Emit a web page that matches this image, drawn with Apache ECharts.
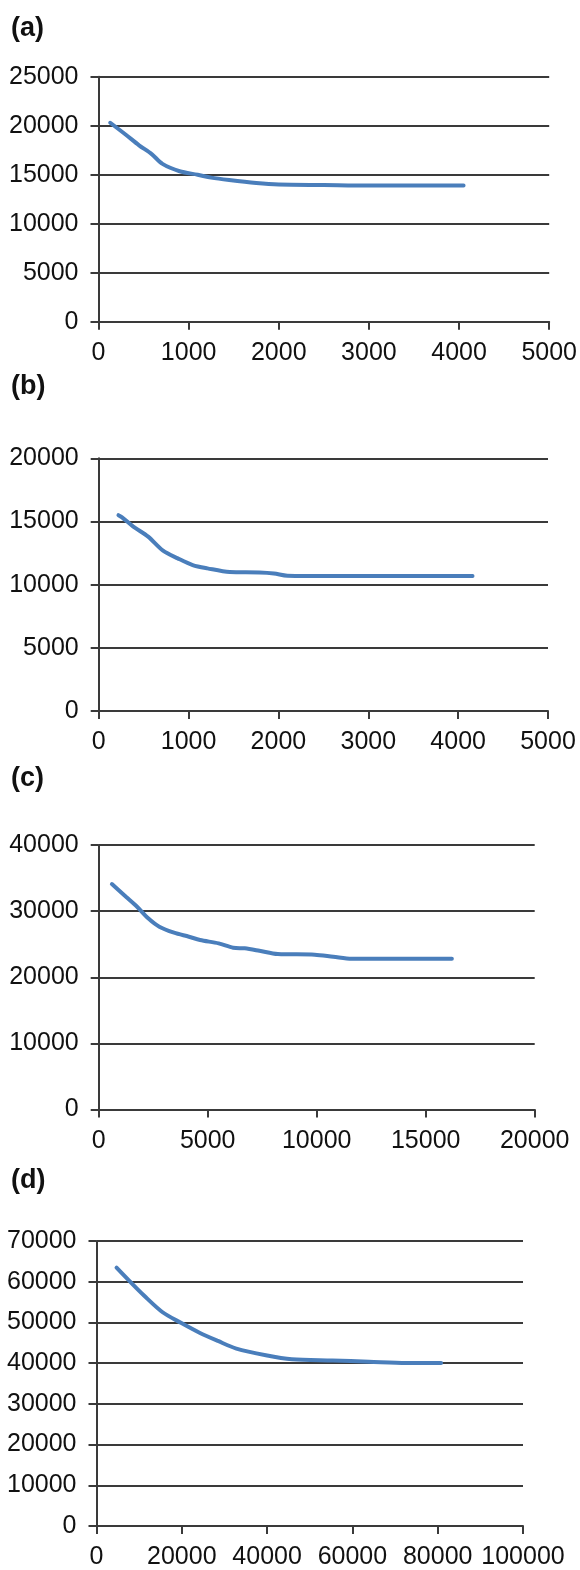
<!DOCTYPE html>
<html>
<head>
<meta charset="utf-8">
<script src="https://cdn.jsdelivr.net/npm/echarts@6/dist/echarts.min.js"></script>
<style>
html,body{margin:0;padding:0;background:#fff;}
#chart{width:580px;height:1570px;}
</style>
</head>
<body>
<div id="chart"></div>
<script>
// Panel labels
const panelLabels = ['(a)', '(b)', '(c)', '(d)'];

// Axis ranges (tick labels follow from these)
const xMax = [5000, 5000, 20000, 100000];
const xInterval = [1000, 1000, 5000, 20000];
const yMax = [25000, 20000, 40000, 70000];
const yInterval = [5000, 5000, 10000, 10000];

// Series values [x, y]
const seriesA = [[130,20300],[300,19100],[450,18000],[590,17100],[710,16100],[900,15350],[1100,15000],[1250,14700],[1450,14450],[1750,14150],[2000,14000],[2500,13950],[3000,13900],[4050,13900]];
const seriesB = [[220,15500],[260,15330],[385,14590],[550,13800],[716,12690],[880,12080],[1046,11550],[1210,11290],[1458,11000],[1790,10970],[1950,10890],[2100,10710],[2600,10680],[4160,10680]];
const seriesC = [[605,34100],[1250,32180],[1760,30670],[2270,28910],[2780,27640],[3455,26740],[4140,26130],[4650,25630],[5500,25130],[6170,24470],[6700,24370],[7370,24010],[8215,23510],[9910,23420],[10760,23110],[11610,22810],[16200,22800]];
const seriesD = [[4700,63440],[7700,60190],[11200,56540],[15500,52500],[19800,49900],[24150,47470],[28470,45450],[32800,43580],[39700,41960],[45800,40980],[55300,40660],[63900,40350],[72600,40030],[80800,40030]];
const allSeries = [seriesA, seriesB, seriesC, seriesD];

// Layout
const grids = [
  {left: 98.5, top: 76.7, width: 453.5, height: 245},
  {left: 98.7, top: 458.3, width: 449.3, height: 252.7},
  {left: 98.7, top: 845, width: 436, height: 264.5},
  {left: 96.5, top: 1241, width: 426.5, height: 288}
];
const titleTops = [15, 373, 765, 1167];

const FONT = '"Liberation Sans", Arial, Helvetica, sans-serif';
const AX = '#3a3a3a';
const plain = v => String(v);

const option = {
  animation: false,
  backgroundColor: '#fff',
  title: panelLabels.map((t, i) => ({
    text: t, left: 11, top: titleTops[i], padding: 0,
    textStyle: {fontFamily: FONT, fontSize: 27, fontWeight: 'bold', color: '#111'}
  })),
  grid: grids,
  xAxis: grids.map((g, i) => ({
    type: 'value', gridIndex: i, min: 0, max: xMax[i], interval: xInterval[i],
    axisLine: {show: true, onZero: false, lineStyle: {color: AX, width: 2}},
    axisTick: {show: true, length: 8, lineStyle: {color: AX, width: 2}},
    splitLine: {show: false},
    axisLabel: {margin: 19, fontFamily: FONT, fontSize: 25, color: '#111', showMaxLabel: true, formatter: plain}
  })),
  yAxis: grids.map((g, i) => ({
    type: 'value', gridIndex: i, min: 0, max: yMax[i], interval: yInterval[i],
    axisLine: {show: true, lineStyle: {color: AX, width: 2}},
    axisTick: {show: true, length: 8, lineStyle: {color: AX, width: 2}},
    splitLine: {show: true, lineStyle: {color: AX, width: 2}},
    axisLabel: {margin: 20, fontFamily: FONT, fontSize: 25, color: '#111', formatter: plain}
  })),
  series: allSeries.map((d, i) => ({
    type: 'line', xAxisIndex: i, yAxisIndex: i, data: d,
    showSymbol: false, symbol: 'none', smooth: 0.3,
    lineStyle: {color: '#4a7ebb', width: 4, cap: 'round'}
  }))
};

const chart = echarts.init(document.getElementById('chart'), null, {renderer: 'canvas'});
chart.setOption(option);
</script>
</body>
</html>
